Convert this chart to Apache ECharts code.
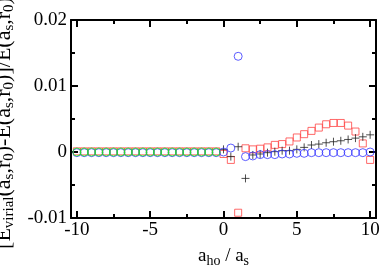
<!DOCTYPE html>
<html>
<head>
<meta charset="utf-8">
<script src="https://cdn.jsdelivr.net/npm/echarts@6/dist/echarts.min.js"></script>
<style>
html,body{margin:0;padding:0;background:#fff;}
#c{width:382px;height:265px;}
</style>
</head>
<body>
<div id="c"></div>
<script>
var xValues = [-10,-9.5,-9,-8.5,-8,-7.5,-7,-6.5,-6,-5.5,-5,-4.5,-4,-3.5,-3,-2.5,-2,-1.5,-1,-0.5,
  0,0.5,1,1.5,2,2.5,3,3.5,4,4.5,5,5.5,6,6.5,7,7.5,8,8.5,9,9.5,10];
var redSquares = [0.0001,0.0001,0.0001,0.0001,0.0001,0.0001,0.0001,0.0001,0.0001,0.0001,
  0.0001,0.0001,0.0001,0.0001,0.0001,0.0001,0.0001,0.0001,0.0001,0.0001,
  -0.0003,-0.0012,-0.0092,0.00056,0.0004,0.0005,0.0007,0.00108,0.0012,0.0016,
  0.0022,0.0027,0.0032,0.0037,0.0042,0.0044,0.0044,0.004,0.0031,0.0013,-0.0012];
var blackPlus = [null,null,null,null,null,null,null,null,null,null,
  null,null,null,null,null,null,null,null,null,null,
  0.0004,-0.0007,0.0008,-0.0040,-0.00045,-0.0003,-0.0001,0.00005,0.0002,0.0002,
  0.0004,0.0007,0.00106,0.0012,0.0014,0.00156,0.0017,0.0019,0.0021,0.0023,0.0026];
var blueCircles = [-0.0001,-0.0001,-0.0001,-0.0001,-0.0001,-0.0001,-0.0001,-0.0001,-0.0001,-0.0001,
  -0.0001,-0.0001,-0.0001,-0.0001,-0.0001,-0.0001,-0.0001,-0.0001,-0.0001,-0.0001,
  0.0,0.0006,0.0145,-0.0007,-0.0006,-0.0004,-0.0004,-0.0004,-0.0003,-0.0003,
  -0.0002,-0.0002,-0.0001,-0.0001,-0.0001,-0.0001,-0.0001,-0.0001,-0.0001,-0.0001,0.0];
var greenCircles = [0,0,0,0,0,0,0,0,0,0,0,0,0,0,0,0,0,0,0,0,
  null,null,null,null,null,null,null,null,null,null,null,null,null,null,null,null,null,null,null,null,null];
var xMajorTicks = [-10,-5,0,5,10];
var xMinorTicks = [-7.5,-2.5,2.5,7.5];

function pairs(ys){
  var out=[];
  for(var i=0;i<xValues.length;i++){ if(ys[i]!==null) out.push([xValues[i], ys[i]]); }
  return out;
}

var FONT = 'Liberation Serif';
var lineStyle = {color:'#000', width:2};
function xAx(pos, ticks, len, labels, showLine){
  return {
    type:'value', min:-10.4, max:10.4, position:pos,
    axisLine:{show:showLine, onZero:false, lineStyle:lineStyle},
    axisTick:{show:true, inside:true, length:len, customValues:ticks, lineStyle:{color:'#000',width:2}},
    axisLabel:{show:labels, customValues:ticks, color:'#000', fontFamily:FONT, fontSize:19, margin:3},
    splitLine:{show:false}
  };
}
var xAxes = [xAx('bottom', xMajorTicks, 7, true, true), xAx('bottom', xMinorTicks, 4, false, false),
  xAx('top', xMajorTicks, 7, false, true), xAx('top', xMinorTicks, 4, false, false)];
xAxes[0].name = '{m|a}{s|ho}{m| / a}{s|s}';
xAxes[0].nameLocation = 'middle';
xAxes[0].nameGap = 27;
xAxes[0].nameTextStyle = {rich:{
  m:{fontFamily:FONT, fontSize:19, color:'#000'},
  s:{fontFamily:FONT, fontSize:14, color:'#000', padding:[9,0,0,0]}
}};

function yAx(pos, labels){
  return {
    type:'value', min:-0.01, max:0.02, interval:0.01, position:pos,
    axisLine:{show:true, onZero:false, lineStyle:lineStyle},
    axisTick:{show:true, inside:true, length:7, lineStyle:{color:'#000',width:2}},
    minorTick:{show:true, splitNumber:2, length:4, lineStyle:{color:'#000',width:2}},
    axisLabel:{show:labels, color:'#000', fontFamily:FONT, fontSize:19, margin:4},
    splitLine:{show:false}
  };
}
var yAxes = [yAx('left', true), yAx('right', false)];
yAxes[0].name = '{m|[E}{s|virial}{m|(a}{s|s}{m|,r}{s|0}{m|)-E(a}{s|s}{m|,r}{s|0}{m|)]/E(a}{s|s}{m|,r}{s|0}{m|)}';
yAxes[0].nameLocation = 'middle';
yAxes[0].nameRotate = 90;
yAxes[0].nameGap = 48;
yAxes[0].nameTextStyle = {padding:[0,8,0,0], rich:{
  m:{fontFamily:FONT, fontSize:22, color:'#000'},
  s:{fontFamily:FONT, fontSize:15, color:'#000', padding:[10,0,0,0]}
}};

var chart = echarts.init(document.getElementById('c'), null, {renderer:'canvas'});
chart.setOption({
  animation:false,
  backgroundColor:'#fff',
  grid:{left:71, right:6, top:20, bottom:47, containLabel:false, outerBoundsMode:'none'},
  xAxis:xAxes,
  yAxis:yAxes,
  series:[
    {type:'scatter', data:pairs(redSquares), symbol:'rect', symbolSize:7,
      itemStyle:{color:'transparent', borderColor:'#ff4444', borderWidth:1}},
    {type:'scatter', data:pairs(blackPlus), symbol:'path://M0,5 L10,5 M5,0 L5,10', symbolSize:8,
      itemStyle:{color:'none', borderColor:'#222', borderWidth:1}},
    {type:'scatter', data:pairs(blueCircles), symbol:'circle', symbolSize:8,
      itemStyle:{color:'transparent', borderColor:'#3333ff', borderWidth:1}},
    {type:'scatter', data:pairs(greenCircles), symbol:'circle', symbolSize:8,
      itemStyle:{color:'transparent', borderColor:'#22ee22', borderWidth:1}}
  ]
});
</script>
</body>
</html>
